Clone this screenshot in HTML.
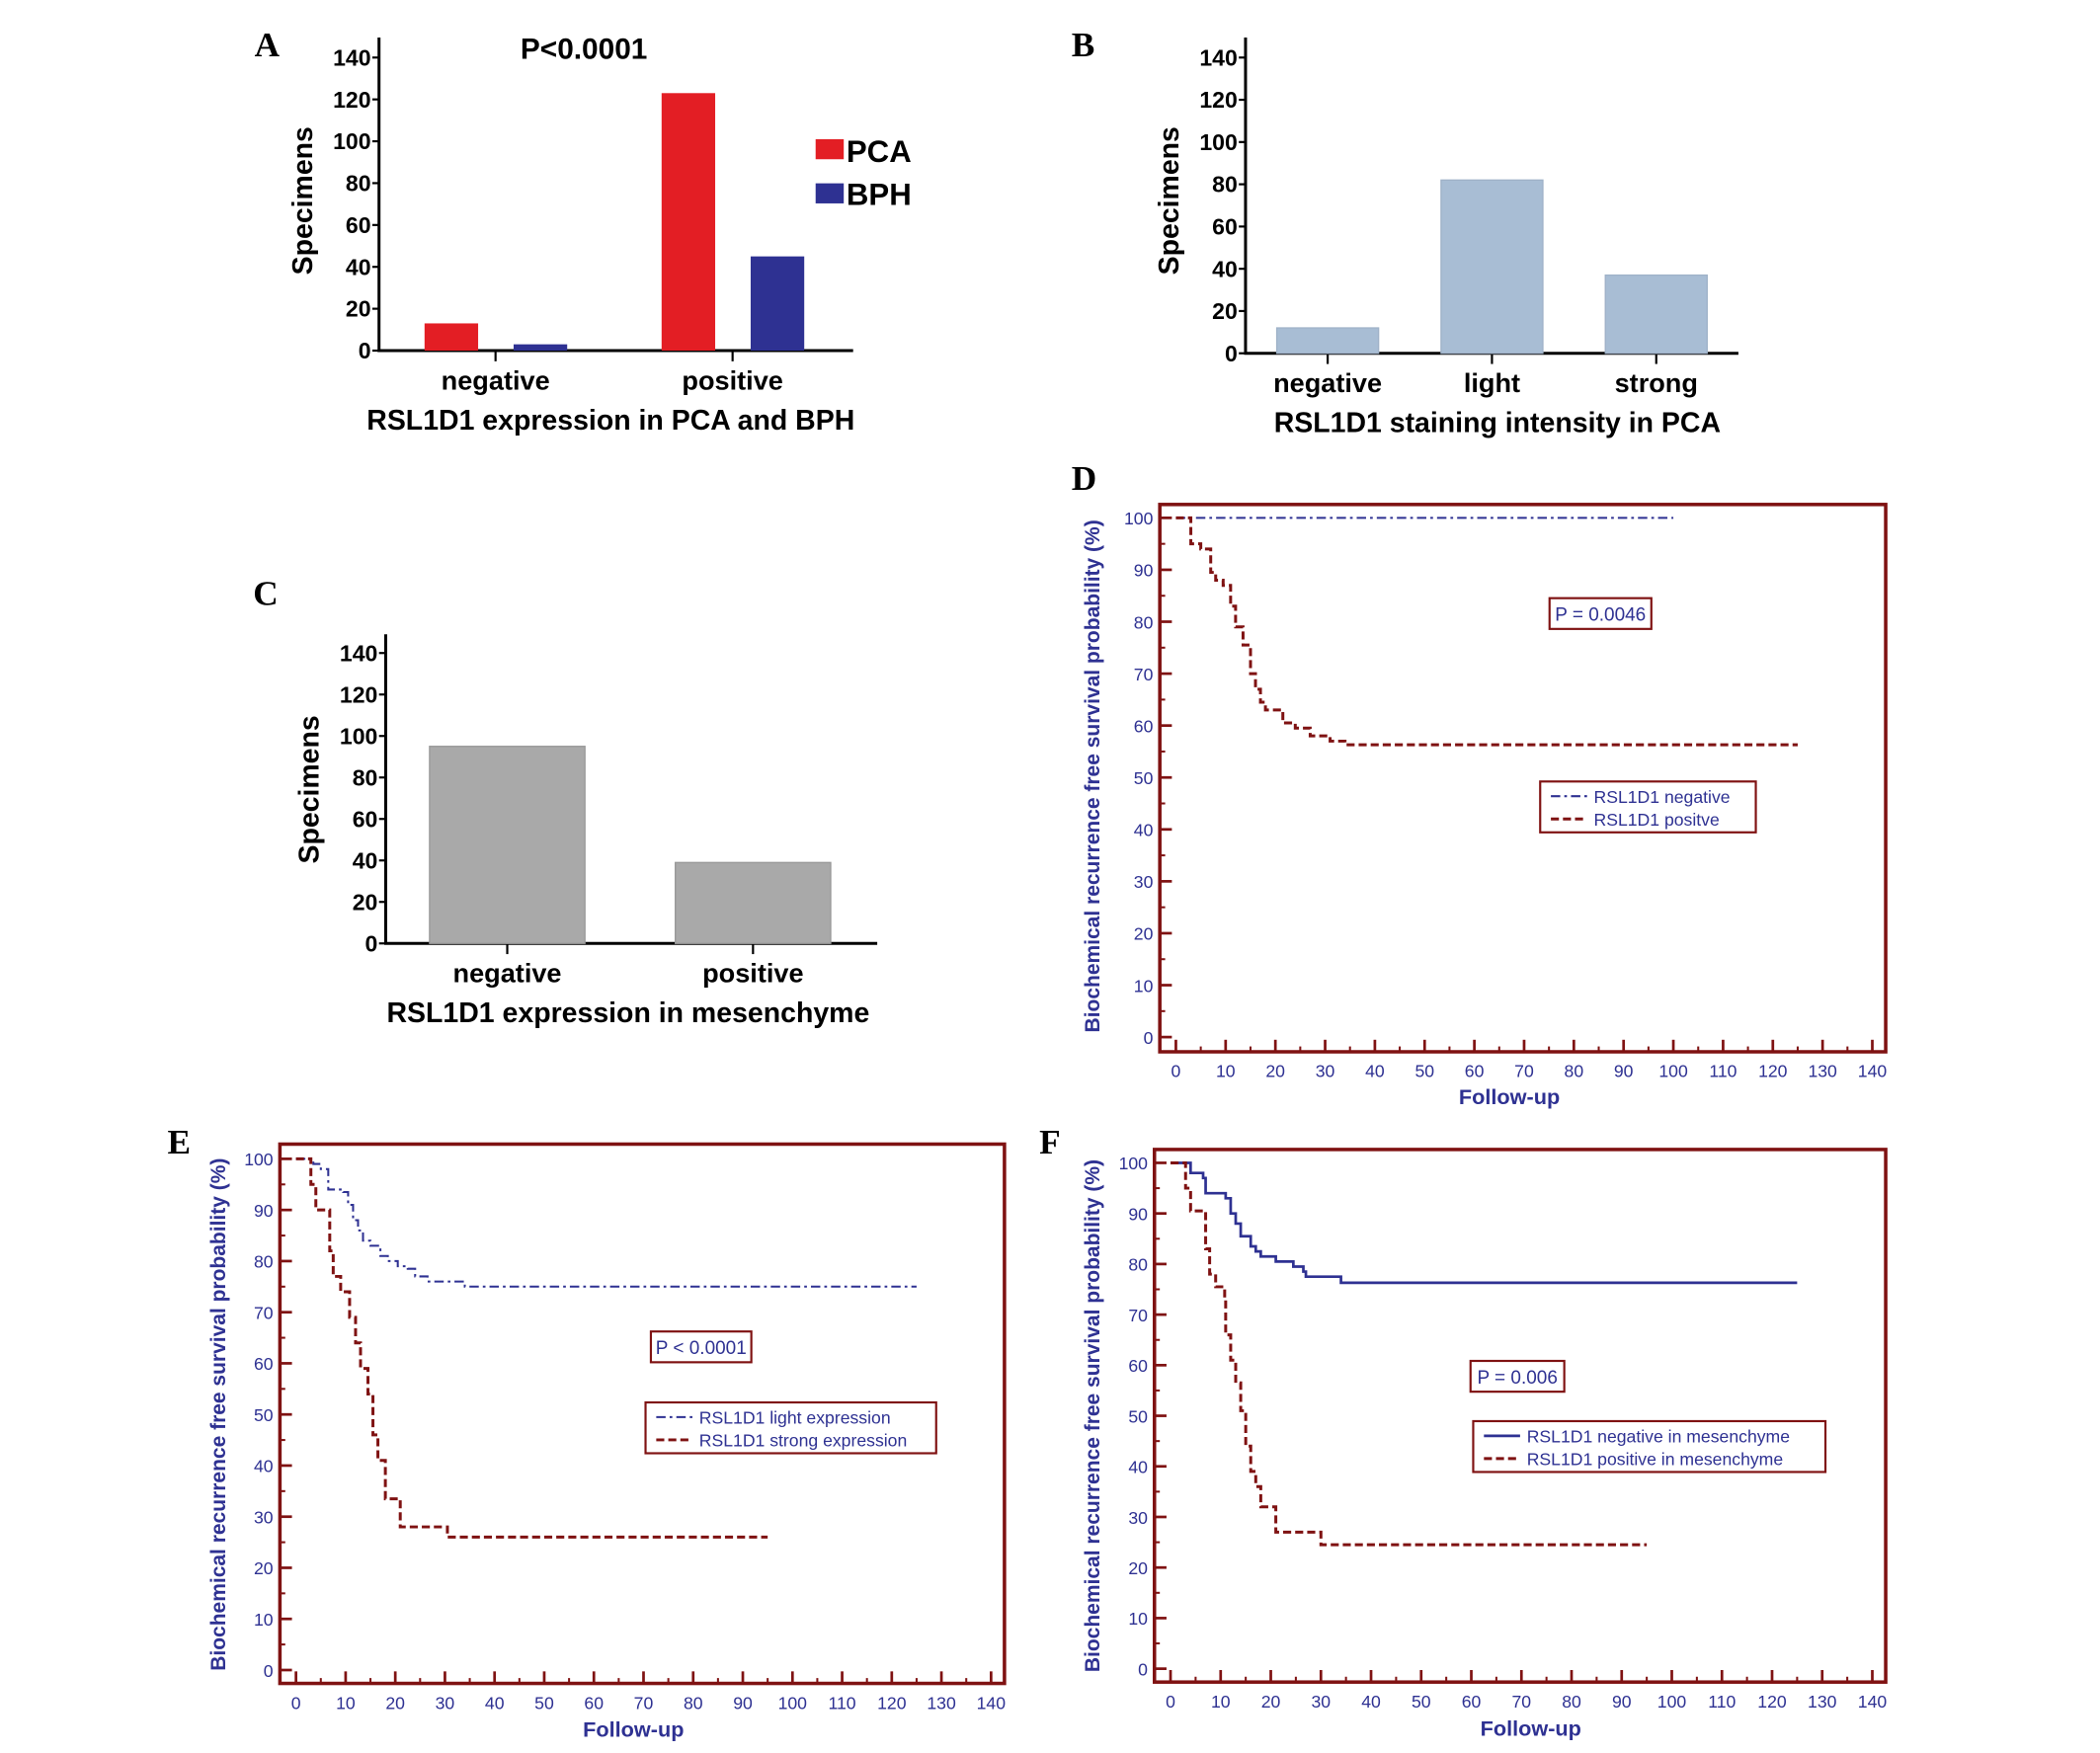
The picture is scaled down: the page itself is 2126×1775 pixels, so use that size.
<!DOCTYPE html>
<html><head><meta charset="utf-8"><style>
html,body{margin:0;padding:0;background:#fff;}
svg{display:block;}
.nb{font-family:"Liberation Sans Narrow","Liberation Sans",sans-serif;font-weight:bold;}
.n{font-family:"Liberation Sans Narrow","Liberation Sans",sans-serif;}
.b{font-family:"Liberation Sans",sans-serif;font-weight:bold;}
.lab{font-family:"Liberation Serif",serif;font-weight:bold;font-size:26px;}
</style></head><body>
<svg id="fig" width="2126" height="1775" viewBox="0 0 1568 1310" preserveAspectRatio="none" xmlns="http://www.w3.org/2000/svg">
<text class="lab" x="190" y="42">A</text>
<text class="lab" x="800" y="42">B</text>
<text class="lab" x="189" y="452">C</text>
<text class="lab" x="800" y="366">D</text>
<text class="lab" x="125" y="862">E</text>
<text class="lab" x="776" y="862">F</text>
</svg>
<script>
// ---- Panel A data
const aCats = ["negative","positive"];
const aPCA = [13, 123];
const aBPH = [3, 45];
// ---- Panel B data
const bCats = ["negative","light","strong"];
const bVals = [12, 82, 37];
// ---- Panel C data
const cCats = ["negative","positive"];
const cVals = [95, 39];
const barTicks = [0,20,40,60,80,100,120,140];
// ---- KM data
const kmXTicks = [0,10,20,30,40,50,60,70,80,90,100,110,120,130,140];
const kmYTicks = [0,10,20,30,40,50,60,70,80,90,100];
const dNegT = [0,100];
const dNegS = [100,100];
const dPosT = [0,3,5,7,8,9.5,11,12,13.5,15,16,17,18,21.5,24,27,31,34,125];
const dPosS = [100,95,94,89.5,88,87,83,79,75.5,70,67,64.5,63,60.5,59.5,58,57,56.3,56.3];
const eLightT = [0,3.5,5,6.5,9.5,10.5,11.5,12.5,13.5,15,17,18.5,20.5,22.5,24,26.5,28,34,125];
const eLightS = [100,99,98,94,93.5,91,88,86,84,83,81,80,79,78.5,77,76,76,75,75];
const eStrongT = [0,3,4,6.8,7.5,9,10.8,12,13,14.5,15.5,16.5,18,21,30.5,95];
const eStrongS = [100,95,90,82,77,74,69,64,59,54,46,41,33.5,28,26,26];
const fNegT = [0,4,6.5,7,11,12,13,14,16,17,18,21,24.5,26.5,27,34,125];
const fNegS = [100,98,97,94,93,90,88,85.5,83.5,82.5,81.5,80.5,79.5,78.5,77.5,76.3,76.3];
const fPosT = [0,3,4,7,7.8,9,10.8,11,12,13,14,15,16,17,18,21,30,95];
const fPosS = [100,95,90.5,83,78,75.5,73,66,61,56.5,51,44,39,36,32,27,24.5,24.5];

const svg = document.getElementById('fig');
const NS = "http://www.w3.org/2000/svg";
function mk(tag, attrs, parent, txt){
  const e = document.createElementNS(NS, tag);
  for (const k in attrs) e.setAttribute(k, attrs[k]);
  if (txt !== undefined) e.textContent = txt;
  (parent||svg).appendChild(e);
  return e;
}

function barChart(o){
  const g = mk('g', {});
  
  
  const y = v => o.y0 - v * (o.y0 - o.y140) / 140;
  const ax = mk('path', {d:`M${o.x0} ${o.yTop} V${o.y0} H${o.x1}`, stroke:'#000', 'stroke-width':2.2, fill:'none'}, g);
  
  
  barTicks.forEach(t=>{
    mk('line',{x1:o.x0-5,x2:o.x0,y1:y(t),y2:y(t),stroke:'#000','stroke-width':1.6},g);
    const tl = mk('text',{x:o.x0-6,y:y(t)+6,'text-anchor':'end','font-size':17,class:'nb'},g,String(t));
    
    
  });
  const n = o.cats.length, cw = (o.x1 - o.x0) / n;
  o.cats.forEach((c,i)=>{
    const cx = o.x0 + cw*(i+0.5) + (o.shift||0);
    mk('line',{x1:cx,x2:cx,y1:o.y0,y2:o.y0+8,stroke:'#000','stroke-width':1.6},g);
    const cl = mk('text',{x:cx,y:o.y0+29,'text-anchor':'middle','font-size':20,class:'nb'},g,c);
    
    
    o.series.forEach((s,j)=>{
      const bx = cx + o.offs[j] - o.bw/2;
      const v = s.vals[i];
      const r = mk('rect',{x:bx,y:y(v),width:o.bw,height:o.y0-y(v),fill:s.color,stroke:s.stroke||'none','stroke-width':1},g);
      
      
    });
  });
  const t = mk('text',{x:o.titleX,y:o.y0+59,'text-anchor':'middle','font-size':21,class:'b'},g,o.title);
  
  
  const yt = mk('text',{x:0,y:0,'text-anchor':'middle','font-size':21,class:'b',transform:`translate(${o.x0-50},${o.ylabY}) rotate(-90)`},g,'Specimens');
  
  
  return g;
}

barChart({name:'chart-a', x0:283, x1:637, y0:262, y140:43, yTop:28, cats:aCats, bw:40, offs:[-33,33.5], shift:-1.5,
  series:[{key:'pca',vals:aPCA,color:'#e31e24'},{key:'bph',vals:aBPH,color:'#2e3192'}],
  title:'RSL1D1 expression in PCA and BPH', titleX:456, ylabY:150});
const pA = mk('text',{x:436,y:44,'text-anchor':'middle','font-size':22,class:'nb'},undefined,'P<0.0001');


const la = mk('g',{});


mk('rect',{x:609,y:104,width:21,height:15,fill:'#e31e24'},la);
const l1 = mk('text',{x:632,y:121,'font-size':23,class:'nb'},la,'PCA');


mk('rect',{x:609,y:137,width:21,height:15,fill:'#2e3192'},la);
const l2 = mk('text',{x:632,y:153,'font-size':23,class:'nb'},la,'BPH');



barChart({name:'chart-b', x0:930, x1:1298, y0:264, y140:43, yTop:28, cats:bCats, bw:76, offs:[0], shift:0,
  series:[{key:'pca',vals:bVals,color:'#a8bdd4',stroke:'#9fb2c8'}],
  title:'RSL1D1 staining intensity in PCA', titleX:1118, ylabY:150});

barChart({name:'chart-c', x0:288, x1:655, y0:705, y140:488, yTop:474, cats:cCats, bw:116, offs:[0], shift:-1,
  series:[{key:'mesenchyme',vals:cVals,color:'#a9a9a9',stroke:'#999'}],
  title:'RSL1D1 expression in mesenchyme', titleX:469, ylabY:590});

const RED = '#7f1212', BLUE = '#2e3192';
function km(o){
  const g = mk('g', {});
  
  
  const X = t => o.xz + t * (o.x140 - o.xz) / 140;
  const Y = v => o.yz - v * (o.yz - o.y100) / 100;
  const box = mk('rect',{x:o.bx,y:o.by,width:o.bw,height:o.bh,fill:'none',stroke:RED,'stroke-width':2.6},g);
  
  
  const bot = o.by + o.bh;
  kmXTicks.forEach(t=>{
    mk('line',{x1:X(t),x2:X(t),y1:bot,y2:bot-9,stroke:RED,'stroke-width':2},g);
    if (t<140) mk('line',{x1:X(t+5),x2:X(t+5),y1:bot,y2:bot-4,stroke:RED,'stroke-width':1.5},g);
    const tl = mk('text',{x:X(t),y:bot+19,'text-anchor':'middle','font-size':13,fill:BLUE,class:'n'},g,String(t));
    
    
  });
  kmYTicks.forEach(v=>{
    mk('line',{x1:o.bx,x2:o.bx+9,y1:Y(v),y2:Y(v),stroke:RED,'stroke-width':2},g);
    if (v<100) mk('line',{x1:o.bx,x2:o.bx+4,y1:Y(v+5),y2:Y(v+5),stroke:RED,'stroke-width':1.5},g);
    const tl = mk('text',{x:o.bx-5,y:Y(v)+5,'text-anchor':'end','font-size':13,fill:BLUE,class:'n'},g,String(v));
    
    
  });
  o.series.forEach(s=>{
    let d = `M${X(s.t[0])} ${Y(s.s[0])}`;
    for (let i=1;i<s.t.length;i++){
      d += ` H${X(s.t[i])} V${Y(s.s[i])}`;
    }
    const p = mk('path',{d:d,fill:'none',stroke:s.color,'stroke-width':s.w,'stroke-dasharray':s.dash},g);
    
    
  });
  const pb = mk('g',{},g);
  
  
  mk('rect',{x:o.p[0],y:o.p[1],width:o.p[2],height:23,fill:'#fff',stroke:RED,'stroke-width':1.6},pb);
  mk('text',{x:o.p[0]+o.p[2]/2,y:o.p[1]+17,'text-anchor':'middle','font-size':14,fill:BLUE,class:'n'},pb,o.ptxt);
  const lg = mk('g',{},g);
  
  
  mk('rect',{x:o.l[0],y:o.l[1],width:o.l[2],height:38,fill:'#fff',stroke:RED,'stroke-width':1.6},lg);
  o.series.forEach((s,i)=>{
    const yy = o.l[1]+11+i*17;
    mk('line',{x1:o.l[0]+8,x2:o.l[0]+35,y1:yy,y2:yy,stroke:s.color,'stroke-width':s.w,'stroke-dasharray':s.dash},lg);
    const e = mk('text',{x:o.l[0]+40,y:yy+5,'font-size':13,fill:BLUE,class:'n'},lg,s.label);
    
    
  });
  const xt = mk('text',{x:o.fx,y:o.fy,'text-anchor':'middle','font-size':16,fill:BLUE,class:'b'},g,'Follow-up');
  
  
  const yt = mk('text',{x:0,y:0,'text-anchor':'middle','font-size':15.5,fill:BLUE,class:'b',transform:`translate(${o.ylx},${o.yly}) rotate(-90)`},g,'Biochemical recurrence free survival probability (%)');
  
  
}

km({name:'chart-d', bx:866, by:377, bw:542, bh:409, xz:878, x140:1398, yz:775, y100:387,
  series:[{key:'line-negative',t:dNegT,s:dNegS,color:BLUE,w:1.5,dash:'7 3 2 3',label:'RSL1D1 negative'},
          {key:'line-positive',t:dPosT,s:dPosS,color:RED,w:2.2,dash:'6 3',label:'RSL1D1 positve'}],
  p:[1157,447,76], ptxt:'P = 0.0046', l:[1150,584,161], fx:1127, fy:825, ylx:821, yly:580});

km({name:'chart-e', bx:209, by:855, bw:541, bh:403, xz:221, x140:740, yz:1248, y100:866,
  series:[{key:'line-light',t:eLightT,s:eLightS,color:BLUE,w:1.5,dash:'7 3 2 3',label:'RSL1D1 light expression'},
          {key:'line-strong',t:eStrongT,s:eStrongS,color:RED,w:2.2,dash:'6 3',label:'RSL1D1 strong expression'}],
  p:[486,995,75], ptxt:'P < 0.0001', l:[482,1048,217], fx:473, fy:1298, ylx:168, yly:1057});

km({name:'chart-f', bx:862, by:859, bw:546, bh:398, xz:874, x140:1398, yz:1247, y100:869,
  series:[{key:'line-negative-mesenchyme',t:fNegT,s:fNegS,color:BLUE,w:2,dash:'none',label:'RSL1D1 negative in mesenchyme'},
          {key:'line-positive-mesenchyme',t:fPosT,s:fPosS,color:RED,w:2.2,dash:'6 3',label:'RSL1D1 positive  in mesenchyme'}],
  p:[1098,1017,70], ptxt:'P = 0.006', l:[1100,1062,263], fx:1143, fy:1297, ylx:821, yly:1058});
</script>
</body></html>
